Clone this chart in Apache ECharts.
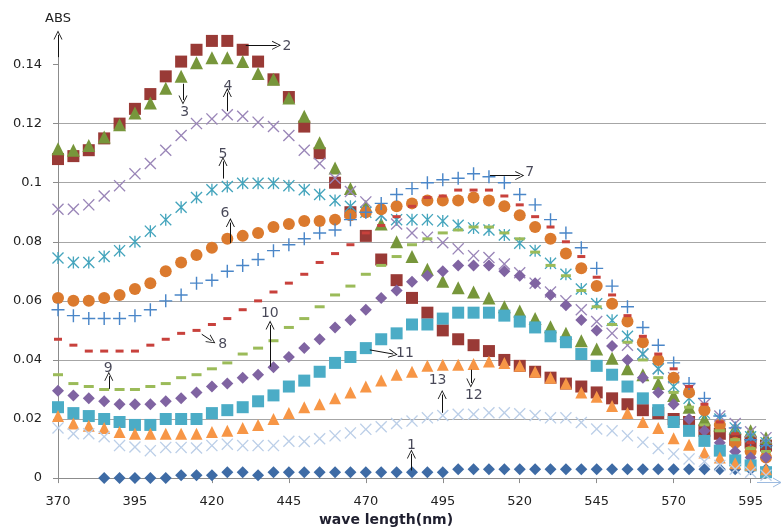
<!DOCTYPE html>
<html>
<head>
<meta charset="utf-8">
<script src="https://cdn.jsdelivr.net/npm/echarts@6/dist/echarts.min.js"></script>
<style>html,body{margin:0;padding:0;background:#fff}#c{width:783px;height:532px}</style>
</head>
<body>
<div id="c"></div>
<script>
const wavelengths = [370,375,380,385,390,395,400,405,410,415,420,425,430,435,440,445,450,455,460,465,470,475,480,485,490,495,500,505,510,515,520,525,530,535,540,545,550,555,560,565,570,575,580,585,590,595,600];
const xTicks = [370,395,420,445,470,495,520,545,570,595];
const yTicks = [0,0.02,0.04,0.06,0.08,0.1,0.12,0.14];

const s1 = [null,null,null,0,0,0,0,0,0.001,0.001,0.001,0.002,0.002,0.001,0.002,0.002,0.002,0.002,0.002,0.002,0.002,0.002,0.002,0.002,0.002,0.002,0.003,0.003,0.003,0.003,0.003,0.003,0.003,0.003,0.003,0.003,0.003,0.003,0.003,0.003,0.003,0.003,0.003,0.003,0.003,0.003,0.003];
const s2 = [0.108,0.109,0.111,0.115,0.120,0.125,0.130,0.136,0.141,0.145, 0.148,0.148,0.145,0.141,0.135,0.129,0.119,0.110,0.100,0.090, 0.082,0.074,0.067,0.061,0.056,0.050,0.047,0.045,0.043,0.040, 0.038,0.036,0.034,0.032,0.031,0.029,0.027,0.025,0.023,0.022, 0.020,0.019,0.016,0.015,0.013,0.012,0.011];
const s3 = [0.1115,0.111,0.1126,0.1155,0.1196,0.1236,0.127,0.132,0.136,0.1406, 0.1423,0.1423,0.141,0.137,0.135,0.1287,0.1225,0.1135,0.105,0.098, 0.092,0.086,0.080,0.075,0.0707,0.0666,0.0644,0.063,0.061,0.058, 0.0566,0.054,0.0512,0.049,0.0465,0.0437,0.0406,0.037,0.035,0.032, 0.028,0.024,0.020,0.018,0.017,0.016,0.0137];
const s4 = [0.091,0.091,0.0925,0.0955,0.099,0.103,0.1065,0.111,0.116,0.120, 0.1216,0.123,0.1225,0.1205,0.119,0.116,0.111,0.1065,0.1015,0.097, 0.0935,0.089,0.086,0.083,0.0815,0.0797,0.0776,0.0753,0.0747,0.0725, 0.0695,0.066,0.063,0.060,0.057,0.053,0.049,0.045,0.042,0.037, 0.034,0.030,0.025,0.021,0.0185,0.0157,0.0137];
const s5 = [0.0745,0.073,0.073,0.075,0.077,0.080,0.0836,0.0875,0.0917,0.095, 0.0976,0.0987,0.0998,0.0998,0.0998,0.099,0.0976,0.096,0.094,0.092, 0.090,0.089,0.0875,0.0875,0.0875,0.087,0.0856,0.0847,0.084,0.0823, 0.0795,0.077,0.0727,0.069,0.064,0.059,0.0534,0.048,0.042,0.037, 0.031,0.027,0.022,0.020,0.017,0.014,0.012];
const s6 = [0.061,0.060,0.060,0.061,0.062,0.064,0.066,0.070,0.073,0.0755, 0.078,0.081,0.082,0.083,0.085,0.086,0.087,0.087,0.0875,0.089, 0.090,0.091,0.092,0.093,0.094,0.094,0.094,0.095,0.094,0.092, 0.089,0.085,0.081,0.076,0.071,0.065,0.059,0.053,0.046,0.040, 0.034,0.029,0.023,0.018,0.012,0.009,0.007];
const s7 = [0.057,0.055,0.054,0.054,0.054,0.055,0.057,0.060,0.062,0.066, 0.067,0.070,0.072,0.074,0.077,0.079,0.081,0.083,0.084,0.0875, 0.090,0.093,0.096,0.098,0.100,0.101,0.1015,0.103,0.102,0.100, 0.096,0.0925,0.0875,0.083,0.078,0.071,0.065,0.058,0.051,0.045, 0.039,0.032,0.027,0.021,0.017,0.013,0.011];
const s8 = [0.047,0.045,0.043,0.043,0.043,0.043,0.045,0.047,0.049,0.050, 0.052,0.054,0.057,0.060,0.063,0.066,0.069,0.073,0.076,0.079, 0.083,0.0855,0.0885,0.092,0.095,0.0955,0.0975,0.0975,0.0975,0.0955, 0.0925,0.0885,0.085,0.080,0.075,0.068,0.062,0.055,0.048,0.042, 0.037,0.031,0.025,0.019,0.015,0.012,0.009];
const s9 = [0.035,0.032,0.031,0.030,0.030,0.030,0.031,0.032,0.034,0.035, 0.037,0.039,0.042,0.044,0.0465,0.051,0.054,0.058,0.062,0.065, 0.069,0.072,0.075,0.079,0.081,0.083,0.084,0.085,0.085,0.083, 0.081,0.0765,0.072,0.0685,0.0635,0.058,0.052,0.046,0.040,0.034, 0.029,0.024,0.018,0.016,0.013,0.010,0.009];
const s10 = [0.0296,0.028,0.027,0.026,0.025,0.025,0.025,0.026,0.027,0.029, 0.031,0.032,0.034,0.035,0.0375,0.041,0.044,0.047,0.051,0.0535, 0.057,0.061,0.0635,0.0665,0.0685,0.070,0.072,0.072,0.072,0.070, 0.0685,0.066,0.062,0.0585,0.0535,0.050,0.0447,0.040,0.034,0.029, 0.025,0.020,0.016,0.012,0.009,0.007,0.007];
const s11 = [0.024,0.022,0.021,0.020,0.019,0.018,0.018,0.020,0.020,0.020, 0.022,0.023,0.024,0.026,0.028,0.031,0.033,0.036,0.039,0.041, 0.044,0.047,0.049,0.052,0.052,0.054,0.056,0.056,0.056,0.055, 0.053,0.051,0.048,0.046,0.042,0.038,0.035,0.031,0.027,0.023, 0.019,0.016,0.0126,0.0093,0.006,0.0043,0.002];
const s12 = [0.021,0.0185,0.0177,0.017,0.0156,0.015,0.015,0.015,0.015,0.015, 0.0156,0.016,0.017,0.018,0.020,0.022,0.024,0.025,0.027,0.029, 0.031,0.033,0.035,0.036,0.038,0.0384,0.0384,0.0386,0.0395,0.039, 0.038,0.036,0.034,0.032,0.029,0.0275,0.0244,0.022,0.019,0.017, 0.0135,0.0113,0.0087,0.007,0.005,0.0045,0.003];
const s13 = [0.017,0.015,0.015,0.014,0.011,0.0105,0.0093,0.0104,0.0104,0.0102, 0.011,0.0115,0.011,0.011,0.011,0.0125,0.0124,0.0133,0.0143,0.0153, 0.0165,0.0174,0.0185,0.0193,0.0204,0.0212,0.0216,0.0216,0.0221,0.0221, 0.0218,0.0212,0.0204,0.0204,0.0188,0.0166,0.016,0.0143,0.0121,0.010, 0.0082,0.0065,0.0056,0.0043,0.003,0.002,0.001];

// annotation labels: [text, wavelength, absorbance]
const labelTexts = ['1','2','3','4','5','6','7','8','9','10','11','12','13'];
const labelX = [484.8,444.4,411.2,425.2,423.6,424.2,523.2,423.5,386.3,438.8,482.7,505.1,493.3];
const labelY = [0.011,0.1461,0.1239,0.1326,0.1095,0.0897,0.1035,0.0454,0.0372,0.0559,0.0422,0.028,0.0331];
// annotation arrows: tail points and head points
const arrowsFrom = [[484.8,0.0026],[431,0.1465],[410.6,0.1335],[425,0.1242],[423.6,0.1014],[426,0.0796],[510.3,0.1024],[416.7,0.0487],[386.5,0.0302],[438.9,0.0377],[471.3,0.0434],[504.1,0.0367],[494.8,0.0221],[370,0.1425]];
const arrowsTo   = [[484.8,0.0082],[441,0.1465],[410.6,0.128],[425,0.1305],[423.6,0.1072],[426,0.0865],[520,0.1024],[419.9,0.0465],[386.5,0.0345],[438.9,0.0518],[478.9,0.0420],[504.1,0.0322],[494.8,0.0283],[370,0.150]];

const P_X = 'path://M0.8,0 L5,4.2 L9.2,0 L10,0.8 L5.8,5 L10,9.2 L9.2,10 L5,5.8 L0.8,10 L0,9.2 L4.2,5 L0,0.8 Z';
const P_PLUS = 'path://M4.45,0 H5.55 V4.45 H10 V5.55 H5.55 V10 H4.45 V5.55 H0 V4.45 H4.45 Z';
const P_AST = 'path://M0.8,0 L5,4.2 L9.2,0 L10,0.8 L5.8,5 L10,9.2 L9.2,10 L5,5.8 L0.8,10 L0,9.2 L4.2,5 L0,0.8 Z M4.45,0 H5.55 V10 H4.45 Z';
const P_ARROW = 'path://M0,10 L5,0 L10,10 L9,10 L5,2 L1,10 Z';

const styles = [
  {d:s1,  sym:'diamond',  size:12, color:'#3E6BA5'},
  {d:s2,  sym:'rect',     size:12, color:'#993A36'},
  {d:s3,  sym:'triangle', size:13, color:'#77963B'},
  {d:s4,  sym:P_X,        size:12, color:'#9A86B8'},
  {d:s5,  sym:P_AST,      size:12, color:'#45A5BD'},
  {d:s6,  sym:'circle',   size:12, color:'#DB7A2E'},
  {d:s7,  sym:P_PLUS,     size:13, color:'#4A86C8'},
  {d:s8,  sym:'rect',     size:[8,3], color:'#C8413C'},
  {d:s9,  sym:'rect',     size:[10,3], color:'#9BBB59'},
  {d:s10, sym:'diamond',  size:12, color:'#8064A2'},
  {d:s11, sym:'rect',     size:12, color:'#4BACC6'},
  {d:s12, sym:'triangle', size:12, color:'#F79646'},
  {d:s13, sym:P_X,        size:12, color:'#BCCFE8'}
];

const series = styles.map((s, k) => ({
  type: 'scatter',
  name: 'S' + (k + 1),
  symbol: s.sym,
  symbolSize: s.size,
  itemStyle: {color: s.color, opacity: 1},
  emphasis: {disabled: true},
  data: wavelengths.map((w, i) => [w, s.d[i]]).filter(p => p[1] !== null)
}));

series.push({
  type: 'scatter',
  name: 'labels',
  symbolSize: 0,
  silent: true,
  z: 10,
  label: {
    show: true, position: 'inside', formatter: p => p.name,
    fontFamily: 'DejaVu Sans', fontSize: 14, color: '#1a1a2e'
  },
  data: labelTexts.map((t, i) => ({name: t, value: [labelX[i], labelY[i]]})),
  markLine: {
    silent: true,
    symbol: ['none', P_ARROW],
    symbolSize: [9, 9],
    label: {show: false},
    lineStyle: {color: '#111', width: 1, type: 'solid'},
    emphasis: {disabled: true},
    animation: false,
    data: arrowsFrom.map((f, i) => [{coord: f}, {coord: arrowsTo[i]}])
  }
});

const chart = echarts.init(document.getElementById('c'), null, {renderer: 'canvas'});
chart.setOption({
  animation: false,
  backgroundColor: '#ffffff',
  grid: {left: 58, right: 17, top: 35, bottom: 49, containLabel: false},
  xAxis: {
    type: 'value', min: 370, max: 600, interval: 25,
    name: 'wave length(nm)', nameLocation: 'middle', nameGap: 30,
    nameTextStyle: {fontFamily: 'DejaVu Sans', fontSize: 14, fontWeight: 'bold', color: '#1f1f2f', padding: [0, 52, 0, 0]},
    axisLine: {show: true, onZero: false, lineStyle: {color: '#8c8c8c', width: 1}},
    axisTick: {show: true, length: 5, customValues: xTicks, lineStyle: {color: '#8c8c8c'}},
    axisLabel: {customValues: xTicks, margin: 17, fontFamily: 'DejaVu Sans', fontSize: 13, color: '#222'},
    splitLine: {show: false}
  },
  yAxis: {
    type: 'value', min: 0, max: 0.15, interval: 0.02,
    name: 'ABS', nameLocation: 'end', nameGap: 10,
    nameTextStyle: {fontFamily: 'DejaVu Sans', fontSize: 13, color: '#222', align: 'center'},
    axisLine: {show: true, lineStyle: {color: '#8c8c8c', width: 1}},
    axisTick: {show: true, length: 5, customValues: yTicks, lineStyle: {color: '#8c8c8c'}},
    axisLabel: {customValues: yTicks, margin: 16, fontFamily: 'DejaVu Sans', fontSize: 13, color: '#222',
      formatter: v => String(Math.round(v * 100) / 100)},
    splitLine: {show: true, showMaxLine: false, lineStyle: {color: '#a6a6a6', width: 1}}
  },
  graphic: [{
    type: 'group', silent: true,
    children: [
      {type: 'line', shape: {x1: 757, y1: 482.5, x2: 781, y2: 482.5}, style: {stroke: '#9DBBE0', lineWidth: 1}},
      {type: 'polyline', shape: {points: [[773, 478], [781, 482.5], [773, 487]]}, style: {stroke: '#9DBBE0', lineWidth: 1, fill: null}}
    ]
  }],
  series: series
});
</script>
</body>
</html>
